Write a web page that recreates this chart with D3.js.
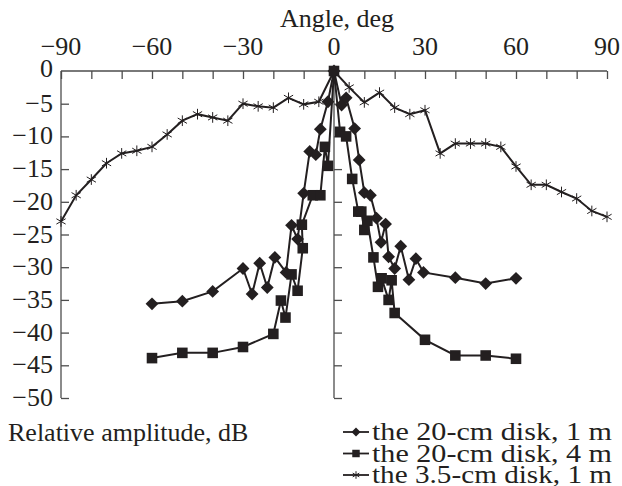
<!DOCTYPE html>
<html>
<head>
<meta charset="utf-8">
<script src="https://cdn.jsdelivr.net/npm/d3@7"></script>
<style>
  body { margin: 0; background: #fff; }
  text { font-family: "Liberation Serif", "Times New Roman", serif; fill: #231f20; }
</style>
</head>
<body>
<svg id="chart"></svg>
<script>
const WIDTH = 622;
const HEIGHT = 486;
const LEFT = 61, RIGHT = 607, TOP = 71, BOTTOM = 398;
const INK = '#231f20';
const FONT = 26;

// 20-cm disk at 1 m (diamonds)
const disk20m1Angle = [-60, -50, -40, -30, -27, -24.5, -22, -19.5, -15.8, -14, -12, -10, -8, -6, -4.5, -2, 0,
  2.5, 4, 6.8, 8.3, 10, 12, 14, 15.5, 17, 18, 20, 22, 24.7, 27, 29.5, 40, 50, 60];
const disk20m1Db = [-35.6, -35.2, -33.7, -30.2, -34.1, -29.4, -33.1, -28.5, -30.8, -23.6, -25.7, -18.7, -12.3, -12.8, -8.9, -4.7, 0,
  -5.2, -4.1, -8.8, -13.6, -18.6, -19, -22.5, -26.2, -23.4, -28.4, -30.2, -26.8, -31.9, -28.7, -30.8, -31.6, -32.5, -31.7];

// 20-cm disk at 4 m (squares)
const disk20m4Angle = [-60, -50, -40, -30, -20, -17.5, -16, -14, -12, -10.3, -10.6, -7, -4.5, -3, -2, 0,
  2, 4, 6, 8, 9, 10, 11, 13, 14.5, 15.7, 18, 19, 20, 30, 40, 50, 60];
const disk20m4Db = [-43.9, -43.1, -43.1, -42.2, -40.2, -35.1, -37.7, -31.1, -33.6, -27.1, -23.5, -19, -19, -11.6, -14.5, 0,
  -9.3, -10, -16.5, -21.5, -21.5, -24.3, -22.9, -28.5, -33, -31.7, -35, -32, -37, -41.1, -43.5, -43.5, -44];

// 3.5-cm disk at 1 m (asterisks)
const disk35Angle = [-90, -85, -80, -75, -70, -65, -60, -55, -50, -45, -40, -35, -30, -25, -20, -15, -10, -5, 0,
  5, 10, 15, 20, 25, 30, 35, 40, 45, 50, 55, 60, 65, 70, 75, 80, 85, 90];
const disk35Db = [-23, -19, -16.6, -14.1, -12.6, -12.2, -11.6, -9.7, -7.6, -6.6, -7.1, -7.6, -5, -5.4, -5.6, -4.1, -5.1, -4.7, 0,
  -2.5, -4.8, -3.3, -5.6, -6.6, -6, -12.6, -11.1, -11.1, -11.1, -11.6, -14.6, -17.4, -17.4, -18.5, -19.5, -21.4, -22.3];

const xTickLabels = [-90, -60, -30, 0, 30, 60, 90];
const yTickLabels = [0, -5, -10, -15, -20, -25, -30, -35, -40, -45, -50];
const legendLabels = ['the 20-cm disk, 1 m', 'the 20-cm disk, 4 m', 'the 3.5-cm disk, 1 m'];

const fmt = v => (v < 0 ? '\u2212' : '') + Math.abs(v);

const x = d3.scaleLinear().domain([-90, 90]).range([LEFT, RIGHT]);
const y = d3.scaleLinear().domain([-50, 0]).range([BOTTOM, TOP]);

const svg = d3.select('#chart').attr('width', WIDTH).attr('height', HEIGHT);

// top angle axis, ticks pointing down
const topAxis = svg.append('g')
  .attr('transform', `translate(0, ${TOP})`)
  .call(d3.axisBottom(x).tickValues(d3.range(-90, 91, 10)).tickSize(8).tickFormat(''));
topAxis.select('.domain').attr('d', `M${LEFT},0H${RIGHT}`);

// left amplitude axis
const leftAxis = svg.append('g')
  .attr('transform', `translate(${LEFT}, 0)`)
  .call(d3.axisRight(y).tickValues(d3.range(-50, 0, 5)).tickSize(8).tickFormat(''));
leftAxis.select('.domain').attr('d', `M0,${TOP}V${BOTTOM}`);

// centre axis at 0 deg
const midAxis = svg.append('g')
  .attr('transform', `translate(${x(0)}, 0)`)
  .call(d3.axisRight(y).tickValues(d3.range(-50, 0, 5)).tickSize(8).tickFormat(''));
midAxis.select('.domain').attr('d', `M0,${TOP}V${BOTTOM}`);

svg.selectAll('.domain, .tick line').attr('stroke', '#4d4d4d').attr('stroke-width', 1.3);

svg.append('g').selectAll('text')
  .data(xTickLabels)
  .join('text')
  .attr('x', d => x(d))
  .attr('y', 55)
  .attr('text-anchor', 'middle')
  .attr('font-size', FONT)
  .text(fmt);

svg.append('g').selectAll('text')
  .data(yTickLabels)
  .join('text')
  .attr('x', 53)
  .attr('y', d => y(d) + (d === 0 ? 6 : 8))
  .attr('text-anchor', 'end')
  .attr('font-size', FONT)
  .text(fmt);

svg.append('text')
  .attr('x', 337).attr('y', 27)
  .attr('text-anchor', 'middle')
  .attr('font-size', FONT)
  .text('Angle, deg');

svg.append('text')
  .attr('x', 8).attr('y', 441)
  .attr('font-size', FONT)
  .text('Relative amplitude, dB');

const line = d3.line().x(d => x(d[0])).y(d => y(d[1]));

const series = [
  { angle: disk20m1Angle, db: disk20m1Db, marker: 'diamond' },
  { angle: disk20m4Angle, db: disk20m4Db, marker: 'square' },
  { angle: disk35Angle, db: disk35Db, marker: 'star' }
];

function drawMarker(sel, kind, scale) {
  if (kind === 'diamond') {
    sel.append('path')
      .attr('d', d3.symbol(d3.symbolSquare, 82 * scale)())
      .attr('transform', 'rotate(45)')
      .attr('fill', INK);
  } else if (kind === 'square') {
    sel.append('path')
      .attr('d', d3.symbol(d3.symbolSquare, 112 * scale)())
      .attr('fill', INK);
  } else {
    sel.append('path')
      .attr('d', d3.symbol(d3.symbolAsterisk, 80 * scale)())
      .attr('fill', 'none')
      .attr('stroke', INK)
      .attr('stroke-width', 1);
  }
}

// draw star series first, then squares, then diamonds on top
[series[2], series[1], series[0]].forEach(s => {
  const pts = s.angle.map((a, i) => [a, s.db[i]]);
  svg.append('path')
    .datum(pts)
    .attr('d', line)
    .attr('fill', 'none')
    .attr('stroke', INK)
    .attr('stroke-width', 2);
  svg.append('g').selectAll('g')
    .data(pts)
    .join('g')
    .attr('transform', d => `translate(${x(d[0])}, ${y(d[1])})`)
    .each(function() { drawMarker(d3.select(this), s.marker, 1); });
});

// legend
const legend = svg.append('g');
series.forEach((s, i) => {
  const ly = 432 + i * 21.5;
  legend.append('line')
    .attr('x1', 343).attr('x2', 369)
    .attr('y1', ly).attr('y2', ly)
    .attr('stroke', INK).attr('stroke-width', 1.8);
  const m = legend.append('g').attr('transform', `translate(356, ${ly})`);
  drawMarker(m, s.marker, 0.5);
  legend.append('text')
    .attr('x', 372).attr('y', ly + 8)
    .attr('font-size', FONT)
    .attr('textLength', 240)
    .attr('lengthAdjust', 'spacingAndGlyphs')
    .text(legendLabels[i]);
});
</script>
</body>
</html>
